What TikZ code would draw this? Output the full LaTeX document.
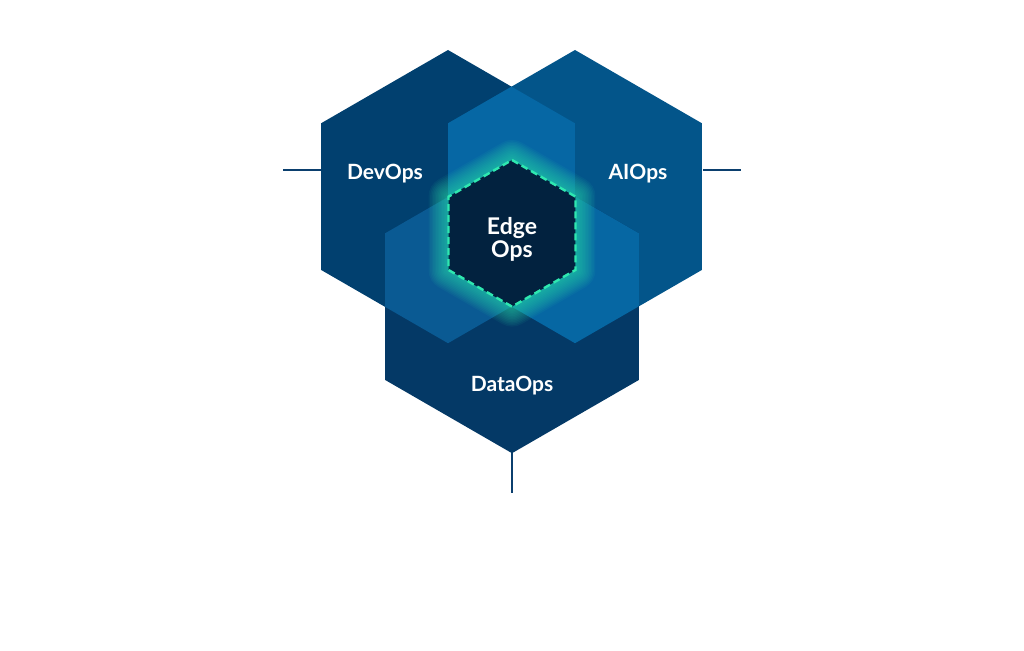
\documentclass[tikz,border=0pt]{standalone}
\usepackage{fontspec}
\setmainfont{Lato}
\usetikzlibrary{positioning}
\definecolor{devblue}{HTML}{01406F}
\definecolor{aiblue}{HTML}{03558A}
\definecolor{datablue}{HTML}{043966}
\definecolor{topmix}{HTML}{0667A4}
\definecolor{leftmix}{HTML}{0A5A93}
\definecolor{rightmix}{HTML}{0667A3}
\definecolor{edgenavy}{HTML}{02223F}
\definecolor{edgeteal}{HTML}{2EE8B0}
\definecolor{lineblue}{HTML}{0B3F6E}
% pointy-top hexagon: centre x, centre y, radius
\newcommand{\hexpath}[3]{(#1,#2-#3) -- (#1+0.8660*#3,#2-0.5*#3) -- (#1+0.8660*#3,#2+0.5*#3) -- (#1,#2+#3) -- (#1-0.8660*#3,#2+0.5*#3) -- (#1-0.8660*#3,#2-0.5*#3) -- cycle}

\begin{document}
\begin{tikzpicture}[x=1pt,y=-1pt,
			opslabel/.style={text=white,font=\bfseries\fontsize{21}{23}\selectfont,inner sep=0pt},
			link/.style={draw=lineblue,line width=2pt}]
			\useasboundingbox (0,0) rectangle (1024,650);
			
			% the three large hexagons
			\fill[devblue]  \hexpath{448}{196.6}{146.6};
			\fill[aiblue]   \hexpath{575}{196.6}{146.6};
			\fill[datablue] \hexpath{512}{306.6}{146.6};
			
			% overlaps
			\begin{scope}
				\clip \hexpath{448}{196.6}{146.6};
				\fill[topmix] \hexpath{575}{196.6}{146.6};
				\fill[leftmix] \hexpath{512}{306.6}{146.6};
			\end{scope}
			\begin{scope}
				\clip \hexpath{575}{196.6}{146.6};
				\fill[rightmix] \hexpath{512}{306.6}{146.6};
			\end{scope}
			
			% glow round the centre
			\foreach \w in {40,37,...,4}
				\draw[edgeteal,opacity=0.06,line width=\w pt,line join=round] \hexpath{512}{233.3}{73.3};
			\fill[edgenavy] \hexpath{512}{233.3}{73.3};
			\draw[edgeteal,line width=2.4pt,dash pattern=on 7pt off 4pt] \hexpath{512}{233.3}{73.3};
			
			% labels
			\node[opslabel] (dev)  at (385,174) {DevOps};
			\node[opslabel] (ai)   at (638,174) {AIOps};
			\node[opslabel] (data) at (512,386) {DataOps};
			\node[opslabel,font=\bfseries\fontsize{23}{23}\selectfont,align=center] (edge) at (512,239) {Edge\\Ops};
			
			% connectors
			\coordinate (devside)  at (321,170);
			\coordinate (aiside)   at (703,170);
			\coordinate (datatip)  at (512,453);
			\coordinate[left=38pt of devside]  (devend);
			\coordinate[right=38pt of aiside]  (aiend);
			\coordinate[below=40pt of datatip] (dataend);
			
			\path[link] (devend) -- (devside)
				(aiside) -- (aiend)
				(datatip) -- (dataend);
\end{tikzpicture}
\end{document}
